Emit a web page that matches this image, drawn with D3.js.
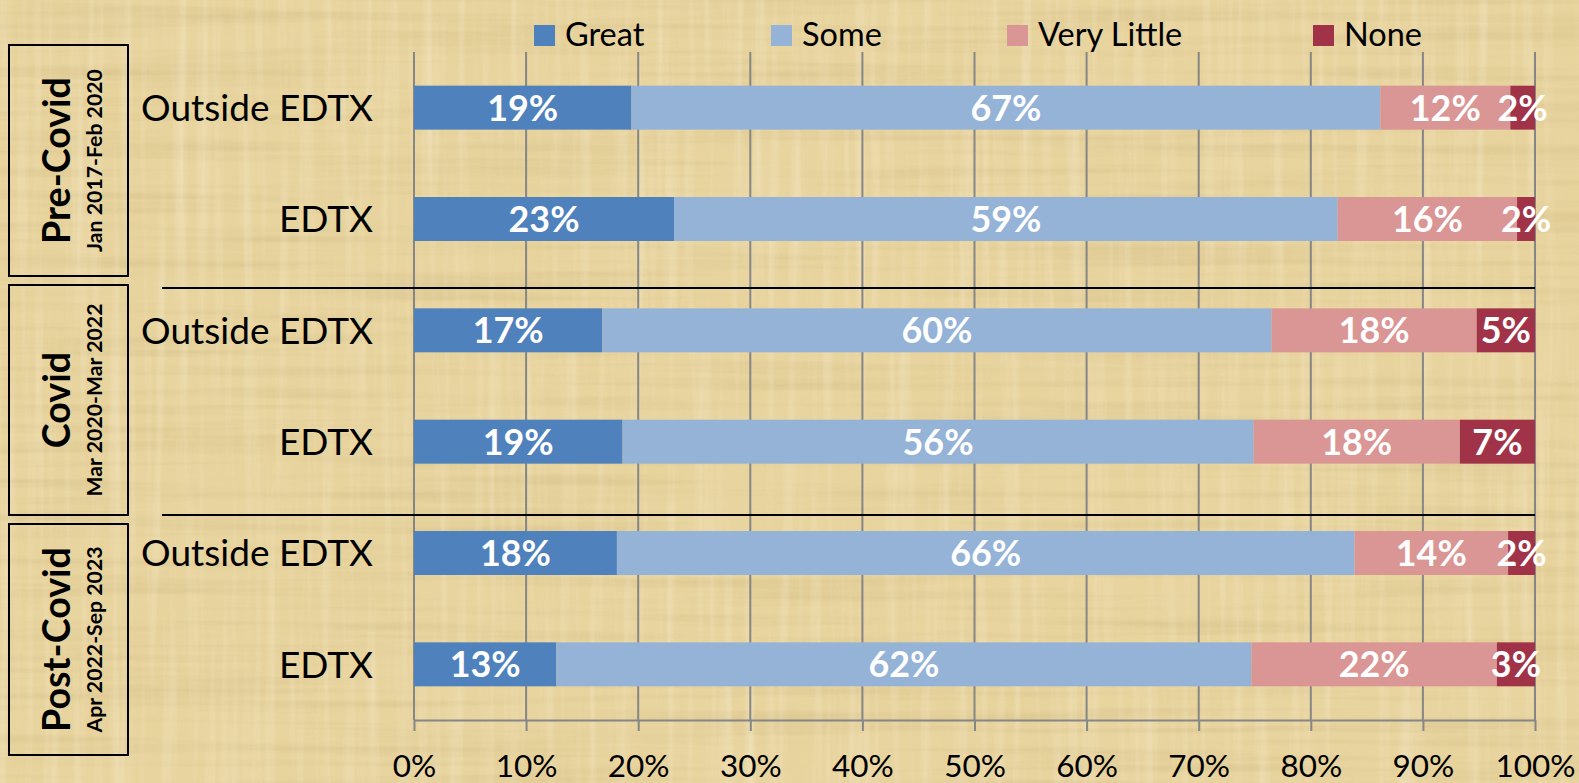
<!DOCTYPE html>
<html>
<head>
<meta charset="utf-8">
<script src="https://cdn.jsdelivr.net/npm/d3@7"></script>
<style>
  html, body { margin: 0; padding: 0; background: #E8D49F; }
  svg { display: block; }
  text { font-family: Lato, "Liberation Sans", Arial, sans-serif; }
</style>
</head>
<body>
<svg id="chart" width="1579" height="783"></svg>
<script>
// ---------- data ----------
const periods = ["Pre-Covid", "Covid", "Post-Covid"];
const periodRanges = ["Jan 2017-Feb 2020", "Mar 2020-Mar 2022", "Apr 2022-Sep 2023"];
const regions = ["Outside EDTX", "EDTX"];
const rowLabels = ["Outside EDTX", "EDTX", "Outside EDTX", "EDTX", "Outside EDTX", "EDTX"];
const seriesNames = ["Great", "Some", "Very Little", "None"];
const great      = [19.4, 23.2, 16.8, 18.6, 18.1, 12.7];
const some       = [66.8, 59.2, 59.7, 56.3, 65.8, 62.0];
const veryLittle = [11.6, 16.0, 18.3, 18.4, 13.7, 21.9];
const none       = [2.2, 1.6, 5.2, 6.7, 2.4, 3.4];
const tickValues = [0, 10, 20, 30, 40, 50, 60, 70, 80, 90, 100];
const colors = ["#4F81BD", "#95B3D7", "#DA9694", "#A13349"];

// ---------- setup ----------
const W = 1579, H = 783;
const svg = d3.select("#chart");

// font size fitting helper (match reference text widths)
function fitSize(sample, targetWidth, weight) {
  const t = svg.append("text").attr("font-size", 100).attr("font-weight", weight || "normal").text(sample);
  const w = t.node().getComputedTextLength();
  t.remove();
  return 100 * targetWidth / w;
}
const fsCat = fitSize("Outside EDTX", 232, "normal");
const fsTick = fitSize("100%", 80, "normal");
const fsBar = fitSize("17%", 71, "bold");
const fsLeg = fitSize("None", 78, "normal");
const fsPer = fitSize("Pre-Covid", 167, "bold");
const fsRange = fitSize("Jan 2017-Feb 2020", 183, "bold");

// papyrus-like background
const defs = svg.append("defs");
const f1 = defs.append("filter").attr("id", "fibH").attr("x", 0).attr("y", 0).attr("width", 1).attr("height", 1);
f1.append("feTurbulence").attr("type", "fractalNoise").attr("baseFrequency", "0.003 0.09").attr("numOctaves", 3).attr("seed", 3);
f1.append("feColorMatrix").attr("type", "matrix")
  .attr("values", "0 0 0 0 0.55  0 0 0 0 0.42  0 0 0 0 0.18  1.6 0 0 0 -0.72");
const f2 = defs.append("filter").attr("id", "fibV").attr("x", 0).attr("y", 0).attr("width", 1).attr("height", 1);
f2.append("feTurbulence").attr("type", "fractalNoise").attr("baseFrequency", "0.09 0.003").attr("numOctaves", 3).attr("seed", 7);
f2.append("feColorMatrix").attr("type", "matrix")
  .attr("values", "0 0 0 0 0.97  0 0 0 0 0.92  0 0 0 0 0.78  1.6 0 0 0 -0.75");
const f3 = defs.append("filter").attr("id", "blot").attr("x", 0).attr("y", 0).attr("width", 1).attr("height", 1);
f3.append("feTurbulence").attr("type", "fractalNoise").attr("baseFrequency", "0.012 0.012").attr("numOctaves", 2).attr("seed", 11);
f3.append("feColorMatrix").attr("type", "matrix")
  .attr("values", "0 0 0 0 0.78  0 0 0 0 0.62  0 0 0 0 0.30  1.4 0 0 0 -0.62");

svg.append("rect").attr("width", W).attr("height", H).attr("fill", "#E8D49F");
svg.append("rect").attr("width", W).attr("height", H).attr("filter", "url(#blot)").attr("opacity", 0.5);
svg.append("rect").attr("width", W).attr("height", H).attr("filter", "url(#fibH)").attr("opacity", 0.4);
svg.append("rect").attr("width", W).attr("height", H).attr("filter", "url(#fibV)").attr("opacity", 0.45);

const plot = { left: 414, right: 1535, top: 52, bottom: 720 };

const x = d3.scaleLinear().domain([0, 100]).range([plot.left, plot.right]);
const y = d3.scaleBand().domain(d3.range(rowLabels.length))
  .range([plot.top, plot.bottom]).paddingInner(0.605).paddingOuter(0.3025);

// gridlines
svg.append("g").selectAll("line").data(tickValues).join("line")
  .attr("x1", d => x(d)).attr("x2", d => x(d))
  .attr("y1", plot.top).attr("y2", plot.bottom)
  .attr("stroke", "#868686").attr("stroke-width", 2);

// x axis
const xAxis = d3.axisBottom(x).tickValues(tickValues).tickFormat(d => d + "%").tickSize(11).tickSizeOuter(0);
const gx = svg.append("g").attr("transform", `translate(0,${plot.bottom})`).call(xAxis);
gx.select(".domain").attr("stroke", "#868686").attr("stroke-width", 2);
gx.selectAll(".tick line").attr("stroke", "#868686").attr("stroke-width", 2);
gx.selectAll(".tick text").attr("font-size", fsTick).attr("fill", "#000")
  .attr("font-family", "Lato, 'Liberation Sans', Arial, sans-serif")
  .attr("y", 0).attr("dy", 0).attr("transform", "translate(0,57)");

// stacked data
const seriesValues = [great, some, veryLittle, none];
const rows = rowLabels.map((lab, i) => {
  const o = { i };
  seriesNames.forEach((s, k) => o[s] = seriesValues[k][i]);
  return o;
});
const stacked = d3.stack().keys(seriesNames)(rows);

const layers = svg.append("g").selectAll("g").data(stacked).join("g")
  .attr("fill", (d, k) => colors[k]);
layers.selectAll("rect").data(d => d).join("rect")
  .attr("x", d => x(d[0])).attr("width", d => x(d[1]) - x(d[0]))
  .attr("y", d => y(d.data.i)).attr("height", y.bandwidth());

// bar labels
const labelG = svg.append("g");
stacked.forEach(layer => {
  labelG.selectAll(null).data(layer).join("text")
    .attr("x", d => (x(d[0]) + x(d[1])) / 2)
    .attr("y", d => y(d.data.i) + y.bandwidth() / 2 + 0.36 * fsBar)
    .attr("text-anchor", "middle")
    .attr("font-size", fsBar).attr("font-weight", "bold").attr("fill", "#fff")
    .text(d => Math.round(d[1] - d[0]) + "%");
});

// category labels
svg.append("g").selectAll("text").data(rowLabels).join("text")
  .attr("x", 373).attr("y", (d, i) => y(i) + y.bandwidth() / 2 + 0.36 * fsCat)
  .attr("text-anchor", "end").attr("font-size", fsCat).attr("fill", "#000")
  .text(d => d);

// separators between periods
[288, 515].forEach(yy => {
  svg.append("line").attr("x1", 162).attr("x2", plot.right).attr("y1", yy).attr("y2", yy)
    .attr("stroke", "#000").attr("stroke-width", 2);
});

// period boxes
const boxes = [[45, 276], [285, 515], [524, 755]];
periods.forEach((p, k) => {
  const [t, b] = boxes[k];
  svg.append("rect").attr("x", 9).attr("y", t).attr("width", 119).attr("height", b - t)
    .attr("fill", "none").attr("stroke", "#000").attr("stroke-width", 2);
  const cy = (t + b) / 2;
  svg.append("text").attr("transform", `translate(70,${cy}) rotate(-90)`)
    .attr("text-anchor", "middle").attr("font-size", fsPer).attr("font-weight", "bold").attr("fill", "#000")
    .text(p);
  svg.append("text").attr("transform", `translate(102,${cy}) rotate(-90)`)
    .attr("text-anchor", "middle").attr("font-size", fsRange).attr("font-weight", "bold").attr("fill", "#000")
    .text(periodRanges[k]);
});

// legend
const legendX = [534, 771, 1007, 1313];
const lg = svg.append("g").selectAll("g").data(seriesNames).join("g")
  .attr("transform", (d, k) => `translate(${legendX[k]},0)`);
lg.append("rect").attr("x", 0).attr("y", 25).attr("width", 21).attr("height", 21).attr("fill", (d, k) => colors[k]);
lg.append("text").attr("x", 31).attr("y", 46).attr("font-size", fsLeg).attr("fill", "#000").text(d => d);
</script>
</body>
</html>
